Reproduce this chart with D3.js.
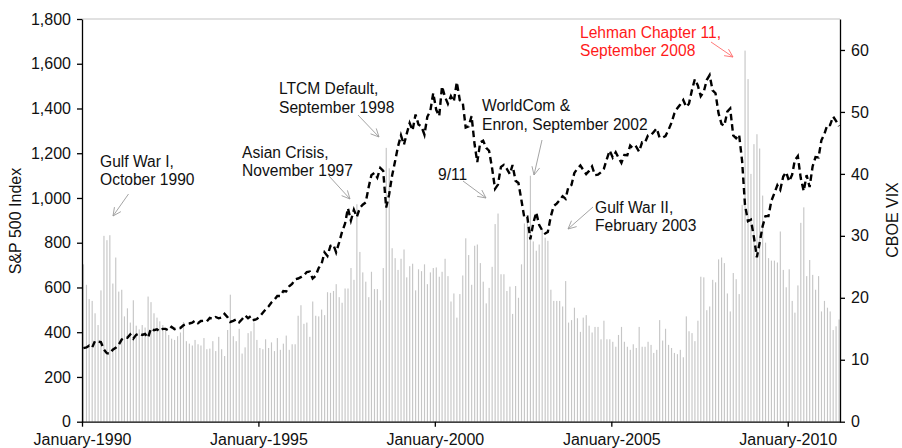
<!DOCTYPE html>
<html lang="en">
<head>
  <meta charset="utf-8">
  <script src="https://cdn.jsdelivr.net/npm/d3@7"></script>
  <style>
    body { margin: 0; background: #fff; }
    svg { display: block; font-family: "Liberation Sans", Arial, Helvetica, sans-serif; }
  </style>
</head>
<body>
  <div id="chart"></div>

  <script>
    // monthly month-end values, January 1990 .. June 2011
    const startYear = 1990;

    const spxClose = [
      329, 332, 340, 331, 361, 358, 356, 323, 306, 304, 322, 330,        // 1990
      344, 367, 375, 375, 390, 371, 388, 395, 388, 392, 375, 417,        // 1991
      409, 413, 404, 415, 415, 408, 424, 414, 418, 419, 431, 436,        // 1992
      439, 443, 452, 440, 450, 451, 448, 464, 459, 468, 462, 466,        // 1993
      482, 467, 446, 451, 457, 444, 458, 475, 463, 472, 454, 459,        // 1994
      470, 487, 501, 515, 533, 545, 562, 562, 584, 582, 605, 616,        // 1995
      636, 640, 646, 654, 669, 671, 640, 652, 687, 705, 757, 741,        // 1996
      786, 791, 757, 801, 848, 885, 954, 899, 947, 915, 955, 970,        // 1997
      980, 1049, 1102, 1112, 1091, 1134, 1121, 957, 1017, 1099, 1164, 1229, // 1998
      1280, 1238, 1286, 1335, 1302, 1373, 1329, 1320, 1283, 1363, 1389, 1469, // 1999
      1394, 1366, 1499, 1452, 1421, 1455, 1431, 1518, 1437, 1429, 1315, 1320, // 2000
      1366, 1240, 1160, 1249, 1256, 1224, 1211, 1134, 1041, 1060, 1139, 1148, // 2001
      1130, 1107, 1147, 1077, 1067, 990, 912, 916, 815, 886, 936, 880,   // 2002
      856, 841, 848, 917, 964, 975, 990, 1008, 996, 1051, 1058, 1112,    // 2003
      1131, 1145, 1126, 1107, 1121, 1141, 1102, 1104, 1115, 1130, 1174, 1212, // 2004
      1181, 1204, 1181, 1157, 1192, 1191, 1234, 1220, 1229, 1207, 1249, 1248, // 2005
      1280, 1281, 1295, 1311, 1270, 1270, 1277, 1304, 1336, 1378, 1401, 1418, // 2006
      1438, 1407, 1421, 1482, 1531, 1503, 1455, 1474, 1527, 1549, 1481, 1468, // 2007
      1379, 1331, 1323, 1386, 1400, 1280, 1267, 1283, 1166, 969, 896, 903,   // 2008
      826, 735, 798, 873, 919, 919, 987, 1021, 1057, 1036, 1096, 1115,    // 2009
      1074, 1104, 1169, 1187, 1089, 1031, 1102, 1049, 1141, 1183, 1181, 1258, // 2010
      1286, 1327, 1326, 1364, 1345, 1321                                  // 2011
    ];

    const vixClose = [
      25.4, 22.1, 19.8, 19.5, 17.5, 15.6, 21.2, 30.0, 29.3, 30.1, 22.3, 26.5, // 1990
      21.0, 21.3, 17.0, 18.3, 16.0, 19.6, 15.5, 14.9, 15.6, 15.2, 20.2, 19.3, // 1991
      17.5, 16.8, 16.2, 15.6, 15.0, 14.0, 13.4, 13.2, 13.8, 14.4, 16.1, 13.0, // 1992
      12.6, 12.3, 13.2, 12.5, 12.3, 13.5, 11.7, 11.8, 13.0, 11.4, 13.7, 11.7, // 1993
      10.6, 14.8, 20.5, 13.8, 13.0, 15.0, 11.0, 12.0, 14.3, 14.6, 16.0, 13.2, // 1994
      11.9, 11.7, 13.3, 11.9, 12.8, 11.4, 13.5, 11.6, 12.6, 13.9, 11.6, 12.5, // 1995
      12.5, 17.1, 18.8, 15.8, 16.0, 13.7, 19.4, 17.1, 17.0, 18.1, 17.2, 20.9, // 1996
      20.8, 21.1, 22.2, 20.1, 19.2, 21.5, 21.5, 24.8, 22.9, 35.1, 27.4, 24.1, // 1997
      22.6, 20.1, 24.2, 21.4, 21.4, 19.6, 24.8, 44.2, 40.9, 28.0, 26.4, 24.5, // 1998
      26.3, 27.8, 23.3, 25.1, 25.5, 21.2, 24.6, 24.3, 25.4, 22.2, 24.1, 24.8, // 1999
      24.9, 23.4, 24.2, 26.3, 23.5, 19.4, 20.7, 16.8, 20.6, 23.6, 29.6, 26.9, // 2000
      22.1, 28.4, 28.6, 25.6, 22.6, 19.1, 21.6, 25.0, 31.9, 33.6, 23.8, 23.8, // 2001
      21.1, 21.8, 17.4, 21.9, 20.0, 25.4, 32.0, 32.6, 39.7, 29.1, 27.6, 28.6, // 2002
      31.1, 29.7, 29.2, 21.3, 19.5, 19.5, 19.5, 18.6, 22.7, 16.0, 16.4, 18.4, // 2003
      16.7, 14.5, 16.8, 17.2, 15.5, 14.4, 15.3, 15.3, 13.3, 16.3, 13.3, 13.3, // 2004
      12.9, 12.1, 14.0, 15.3, 12.9, 12.1, 11.6, 12.5, 11.9, 15.3, 12.1, 12.1, // 2005
      12.9, 12.4, 11.1, 11.6, 16.4, 13.1, 15.0, 12.4, 11.9, 11.1, 10.9, 11.6, // 2006
      10.4, 17.0, 14.6, 14.3, 13.0, 16.3, 23.4, 23.3, 18.0, 18.6, 22.9, 22.5, // 2007
      26.2, 26.5, 25.6, 20.7, 17.8, 24.0, 23.0, 20.6, 35.0, 59.9, 55.3, 40.0, // 2008
      44.8, 46.4, 44.1, 36.5, 28.9, 26.4, 26.0, 26.0, 25.7, 30.7, 24.5, 21.7, // 2009
      24.6, 19.5, 17.6, 22.0, 32.1, 34.6, 23.5, 26.1, 23.7, 21.3, 23.5, 17.8, // 2010
      19.5, 18.4, 17.8, 14.8, 15.4, 16.5                                      // 2011
    ];

    const xTickYears = [1990, 1995, 2000, 2005, 2010];
    const spxTicks = [0, 200, 400, 600, 800, 1000, 1200, 1400, 1600, 1800];
    const vixTicks = [0, 10, 20, 30, 40, 50, 60];

    const eventLabels = [
      ["Gulf War I,", "October 1990"],
      ["Asian Crisis,", "November 1997"],
      ["LTCM Default,", "September 1998"],
      ["9/11"],
      ["WorldCom &", "Enron, September 2002"],
      ["Gulf War II,", "February 2003"],
      ["Lehman Chapter 11,", "September 2008"]
    ];

    // layout of the annotations: text origin, arrow start, arrow tip
    const eventLayout = [
      { tx: 100, ty: 166.5, from: [128.5, 194], to: [113, 216] },
      { tx: 242, ty: 157.5, from: [329, 176], to: [350, 199] },
      { tx: 279, ty: 94, from: [358, 115], to: [379, 137] },
      { tx: 438, ty: 180, from: [463, 181], to: [486, 198] },
      { tx: 482, ty: 111, from: [542, 140], to: [534, 175] },
      { tx: 595, ty: 212.5, from: [593, 207], to: [568, 229] },
      { tx: 580, ty: 37.5, from: [711, 42], to: [733, 57], red: true }
    ];

    const svgWidth = 902;
    const svgHeight = 448;
    const plot = { left: 82, right: 840, top: 19, bottom: 421.7 };

    const months = spxClose.map((d, i) => new Date(startYear, i, 1));

    const svg = d3.select("#chart")
      .append("svg")
      .attr("width", svgWidth)
      .attr("height", svgHeight);

    const x = d3.scaleTime()
      .domain([new Date(startYear, 0, 1), new Date(2011, 5, 26)])
      .range([plot.left, plot.right]);
    const ySpx = d3.scaleLinear().domain([0, 1800]).range([plot.bottom, plot.top]);
    const yVix = d3.scaleLinear().domain([0, 65]).range([plot.bottom, plot.top]);

    // top frame line
    svg.append("line")
      .attr("x1", plot.left).attr("x2", plot.right)
      .attr("y1", plot.top).attr("y2", plot.top)
      .attr("stroke", "#c4c4c4").attr("stroke-width", 1.2);

    // VIX bars
    svg.append("g")
      .selectAll("rect")
      .data(vixClose)
      .join("rect")
      .attr("x", (d, i) => x(months[i]) + 0.9)
      .attr("y", d => yVix(d))
      .attr("width", 1.15)
      .attr("height", d => yVix(0) - yVix(d))
      .attr("fill", "#c6c6c6");

    // S&P 500 line
    const line = d3.line()
      .x((d, i) => x(months[i]) + 1.4)
      .y(d => ySpx(d));
    svg.append("path")
      .datum(spxClose)
      .attr("d", line)
      .attr("fill", "none")
      .attr("stroke", "#000")
      .attr("stroke-width", 2.4)
      .attr("stroke-dasharray", "6.5,4");

    // axes
    const styleAxis = (g) => {
      g.select(".domain").attr("stroke", "#000").attr("stroke-width", 1.3);
      g.selectAll(".tick line").attr("stroke", "#000").attr("stroke-width", 1.3);
      g.selectAll(".tick text").attr("fill", "#111").attr("font-size", 16);
    };

    svg.append("g")
      .attr("transform", `translate(0,${plot.bottom})`)
      .call(d3.axisBottom(x)
        .tickValues(xTickYears.map(yr => new Date(yr, 0, 1)))
        .tickFormat(d3.timeFormat("January-%Y"))
        .tickSize(5).tickSizeOuter(0).tickPadding(7))
      .call(styleAxis);

    svg.append("g")
      .attr("transform", `translate(${plot.left},0)`)
      .call(d3.axisLeft(ySpx)
        .tickValues(spxTicks)
        .tickFormat(d3.format(","))
        .tickSize(5).tickSizeOuter(0).tickPadding(6))
      .call(styleAxis);

    svg.append("g")
      .attr("transform", `translate(${plot.right},0)`)
      .call(d3.axisRight(yVix)
        .tickValues(vixTicks)
        .tickSize(5).tickSizeOuter(0).tickPadding(6))
      .call(styleAxis);

    // axis titles
    svg.append("text")
      .attr("transform", "translate(20.5,221) rotate(-90)")
      .attr("text-anchor", "middle")
      .attr("font-size", 16).attr("fill", "#111")
      .text("S&P 500 Index");

    svg.append("text")
      .attr("transform", "translate(898,220) rotate(-90)")
      .attr("text-anchor", "middle")
      .attr("font-size", 16).attr("fill", "#111")
      .text("CBOE VIX");

    // event annotations
    const arrowHead = (from, to, len, spread) => {
      const ang = Math.atan2(from[1] - to[1], from[0] - to[0]);
      const a1 = ang + spread, a2 = ang - spread;
      return `M${to[0] + len * Math.cos(a1)},${to[1] + len * Math.sin(a1)}L${to[0]},${to[1]}` +
             `L${to[0] + len * Math.cos(a2)},${to[1] + len * Math.sin(a2)}`;
    };

    eventLabels.forEach((lines, k) => {
      const lay = eventLayout[k];
      const textColor = lay.red ? "#ff1a1a" : "#111";
      const arrowColor = lay.red ? "#ff6a6a" : "#9a9a9a";
      const t = svg.append("text")
        .attr("font-size", 15.6)
        .attr("fill", textColor);
      lines.forEach((s, j) => {
        t.append("tspan")
          .attr("x", lay.tx)
          .attr("y", lay.ty + j * 18.8)
          .text(s);
      });
      svg.append("line")
        .attr("x1", lay.from[0]).attr("y1", lay.from[1])
        .attr("x2", lay.to[0]).attr("y2", lay.to[1])
        .attr("stroke", arrowColor).attr("stroke-width", 0.9);
      svg.append("path")
        .attr("d", arrowHead(lay.from, lay.to, 9, 0.45))
        .attr("fill", "none")
        .attr("stroke", arrowColor).attr("stroke-width", 0.9);
    });
  </script>
</body>
</html>
